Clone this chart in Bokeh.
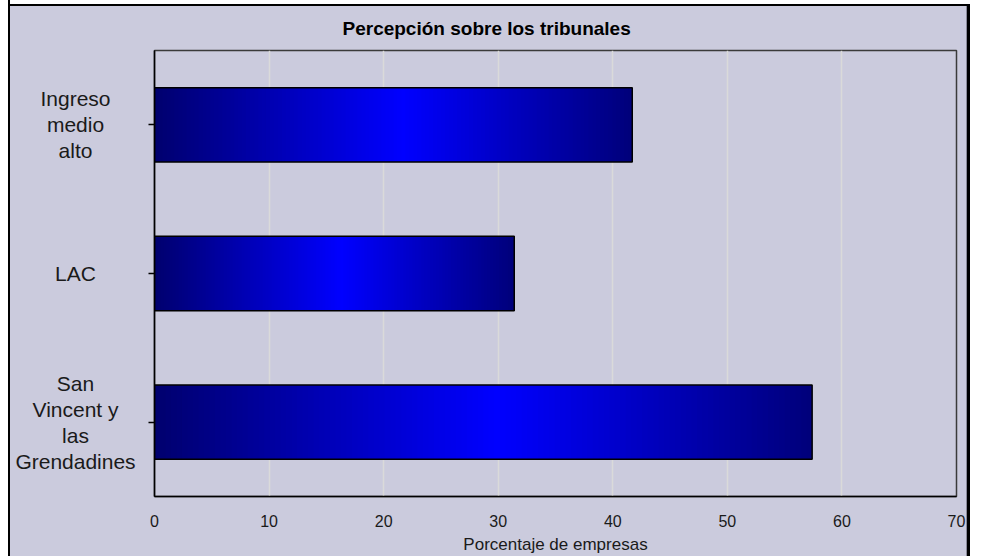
import numpy as np
from bokeh.plotting import figure
from bokeh.models import ColumnDataSource, FactorRange, Range1d, FixedTicker, Row
from bokeh.embed import file_html
from bokeh.resources import INLINE

# ---- data ----
title_text = "Percepción sobre los tribunales"
categories = ["Ingreso medio alto", "LAC", "San Vincent y las Grendadines"]
category_labels = ["Ingreso\nmedio\nalto", "LAC", "San\nVincent y\nlas\nGrendadines"]
values = [41.7, 31.4, 57.4]
x_ticks = [0, 10, 20, 30, 40, 50, 60, 70]
x_label = "Porcentaje de empresas"

# ---- style ----
BG = "#CBCBDD"
TOTAL_W, H = 970, 556
LABEL_W = 144
TOP, BOTTOM = 50, 60
BAR_H = 0.5
LINE_SPACING = 26
FONT = "Liberation Sans"

factors = categories[::-1]
y_range = FactorRange(factors=factors, range_padding=0)

# ---- main chart ----
p = figure(width=TOTAL_W - LABEL_W, height=H, output_backend="svg", toolbar_location=None,
           y_range=y_range, x_range=Range1d(x_ticks[0], x_ticks[-1]),
           min_border_left=10, min_border_right=14,
           min_border_top=TOP, min_border_bottom=BOTTOM)
p.background_fill_color = BG
p.border_fill_color = None
p.outline_line_color = "#3A3A3A"
p.outline_line_width = 1.5

# gradient slices (dark navy -> bright blue -> dark navy)
N = 120
def grad_color(t):
    peak = 0.52
    dark_l, dark_r, top = 110, 122, 255
    if t <= peak:
        f = t / peak
        b = dark_l + (top - dark_l) * f
    else:
        f = (1 - t) / (1 - peak)
        b = dark_r + (top - dark_r) * f
    return "#%02x%02x%02x" % (0, 0, int(round(b)))

sl_y, sl_l, sl_r, sl_c = [], [], [], []
for cat, v in zip(categories, values):
    for k in range(N):
        sl_y.append(cat)
        sl_l.append(v * k / N)
        sl_r.append(v * min(k + 1.8, N) / N)
        sl_c.append(grad_color((k + 0.5) / N))
slices = ColumnDataSource(dict(y=sl_y, left=sl_l, right=sl_r, color=sl_c))
p.hbar(y="y", left="left", right="right", height=BAR_H, fill_color="color",
       line_color=None, source=slices)

bars = ColumnDataSource(dict(cat=categories, val=values))
p.hbar(y="cat", left=0, right="val", height=BAR_H, fill_color=None,
       line_color="black", line_width=1.5, source=bars)

# x axis
p.xaxis.ticker = FixedTicker(ticks=x_ticks)
p.xaxis.major_tick_out = 0
p.xaxis.major_tick_in = 0
p.xaxis.minor_tick_line_color = None
p.xaxis.axis_line_color = "black"
p.xaxis.axis_line_width = 1.5
p.xaxis.major_label_text_font = FONT
p.xaxis.major_label_text_font_size = "16px"
p.xaxis.major_label_text_color = "#1a1a1a"
p.xaxis.major_label_standoff = 18
p.xaxis.axis_label = x_label
p.xaxis.axis_label_standoff = 5
p.xaxis.axis_label_text_font = FONT
p.xaxis.axis_label_text_font_size = "17px"
p.xaxis.axis_label_text_font_style = "normal"
p.xaxis.axis_label_text_color = "#1a1a1a"

# y axis: ticks only (labels drawn in the side panel figure)
p.yaxis.major_tick_out = 6
p.yaxis.major_tick_in = 0
p.yaxis.major_tick_line_width = 1.5
p.yaxis.major_tick_line_color = "black"
p.yaxis.axis_line_color = "black"
p.yaxis.axis_line_width = 1.5
p.yaxis.major_label_text_color = None
p.yaxis.major_label_text_font_size = "1px"
p.yaxis.major_label_standoff = 0

p.xgrid.grid_line_color = "#DADADA"
p.xgrid.grid_line_width = 1.5
p.ygrid.grid_line_color = None

# title
p.title.text = title_text
p.title.align = "left"
p.title.offset = 188
p.title.standoff = 23
p.title.text_font = FONT
p.title.text_font_style = "bold"
p.title.text_font_size = "19px"
p.title.text_color = "#000000"

# ---- category label panel (centered multi-line labels) ----
lab_y, lab_t, lab_off = [], [], []
for cat, lab in zip(categories, category_labels):
    lines = lab.split("\n")
    n = len(lines)
    for i, line in enumerate(lines):
        lab_y.append(cat)
        lab_t.append(line)
        lab_off.append((i - (n - 1) / 2) * LINE_SPACING)
lab_src = ColumnDataSource(dict(y=lab_y, text=lab_t, yoff=lab_off))

pl = figure(width=LABEL_W, height=H, output_backend="svg", toolbar_location=None,
            y_range=y_range, x_range=Range1d(0, 1),
            x_axis_type=None, y_axis_type=None,
            min_border_left=0, min_border_right=0,
            min_border_top=TOP, min_border_bottom=BOTTOM)
pl.grid.visible = False
pl.outline_line_color = None
pl.background_fill_color = None
pl.border_fill_color = None
pl.text(x=0.5, y="y", text="text", y_offset="yoff", x_offset=3, source=lab_src,
        text_align="center", text_baseline="middle",
        text_font={"value": FONT}, text_font_size="21px", text_color="#1a1a1a")

layout = Row(children=[pl, p], spacing=0, styles={
    "background-color": BG,
    "background-image": (
        "linear-gradient(to right, #ffffff 0px, #ffffff 8px, #000000 8px, #000000 10px, rgba(0,0,0,0) 10px), "
        "linear-gradient(to bottom, #ffffff 0px, #ffffff 4px, #000000 4px, #000000 6px, rgba(0,0,0,0) 6px), "
        "linear-gradient(to left, #000000 0px, #000000 3px, #8a8a9a 3px, #8a8a9a 4px, rgba(0,0,0,0) 4px)"
    ),
})

open("out.html", "w").write(file_html(layout, INLINE))
